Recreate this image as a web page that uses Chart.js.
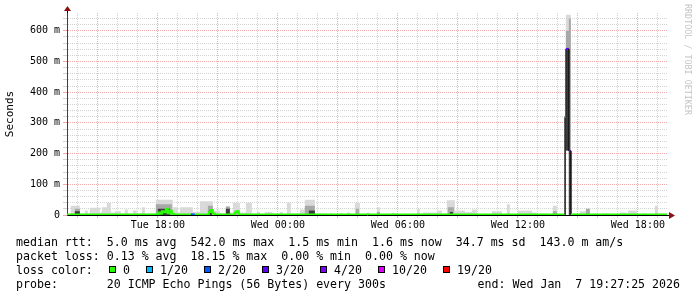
<!doctype html>
<html>
<head>
<meta charset="utf-8">
<title>SmokePing latency</title>
<script src="https://cdn.jsdelivr.net/npm/chart.js@4/dist/chart.umd.min.js"></script>
<style>
	body { margin: 0; background: #fff; }
	#wrap { position: relative; width: 697px; height: 297px; }
	#canvas { position: absolute; left: 0; top: 0; }
	.txt { position: absolute; font: 11.6px 'DejaVu Sans Mono', monospace; color: #000; white-space: pre; line-height: 14px; }
	.sq { position: absolute; width: 5px; height: 5px; border: 1px solid #000; }
	#mark { position: absolute; left: 683px; top: 4px; writing-mode: vertical-rl; font: 8.4px 'DejaVu Sans Mono', monospace; line-height: 9px; color: #c4c4c4; white-space: pre; }
</style>
</head>
<body>
<div id="wrap">
	<canvas id="canvas" width="697" height="297"></canvas>
	<div id="mark">RRDTOOL / TOBI OETIKER</div>
	<div class="txt" style="left:16px; top:235px">median rtt:  5.0 ms avg  542.0 ms max  1.5 ms min  1.6 ms now  34.7 ms sd  143.0 m am/s
packet loss: 0.13 % avg  18.15 % max  0.00 % min  0.00 % now
loss color:
probe:       20 ICMP Echo Pings (56 Bytes) every 300s</div>
	<div class="txt" style="right:17px; top:277px">end: Wed Jan  7 19:27:25 2026</div>
	<div id="losskey"></div>
</div>
<script>

	// time window (hours since Tue 00:00)
	var startTime = 'Tue 13:27:25';
	var endTime = 'Wed 19:27:25';

	// loss legend
	var lossLabels = ['0', '1/20', '2/20', '3/20', '4/20', '10/20', '19/20'];
	var lossSteps = [0, 1, 2, 3, 4, 10, 19];
	var lossColors = ['#26ff00', '#00b8ff', '#0059ff', '#5e00ff', '#7e00ff', '#dd00ff', '#ff0000'];

	// smoke bands: [time, low ms, high ms], each held until the next row
	var lightSmoke = [
		['Tue 13:27', 0, 2], ['Tue 13:39', 0, 30], ['Tue 14:06', 0, 5], ['Tue 14:21', 0, 15],
		['Tue 14:30', 0, 5], ['Tue 14:36', 0, 24], ['Tue 15:06', 0, 8], ['Tue 15:12', 0, 25],
		['Tue 15:27', 0, 40], ['Tue 15:39', 0, 8], ['Tue 15:51', 0, 12], ['Tue 16:09', 0, 5],
		['Tue 16:21', 0, 18], ['Tue 16:30', 0, 5], ['Tue 16:45', 0, 15], ['Tue 16:57', 0, 5],
		['Tue 17:12', 0, 25], ['Tue 17:21', 0, 5], ['Tue 17:54', 0, 50], ['Tue 18:45', 0, 25],
		['Tue 19:00', 0, 8], ['Tue 19:06', 0, 25], ['Tue 19:45', 0, 10], ['Tue 20:06', 0, 45],
		['Tue 20:45', 0, 15], ['Tue 21:06', 0, 5], ['Tue 21:24', 0, 28], ['Tue 21:36', 0, 8],
		['Tue 21:45', 0, 40], ['Tue 22:06', 0, 8], ['Tue 22:24', 0, 40], ['Tue 22:42', 0, 5],
		['Tue 22:57', 0, 10], ['Tue 23:06', 0, 3], ['Tue 23:21', 0, 10], ['Tue 23:42', 0, 5],
		['Wed 00:06', 0, 10], ['Wed 00:15', 0, 4], ['Wed 00:27', 0, 40], ['Wed 00:39', 0, 5],
		['Wed 01:06', 0, 18], ['Wed 01:21', 0, 50], ['Wed 01:51', 0, 5], ['Wed 02:27', 0, 2],
		['Wed 02:36', 0, 6], ['Wed 02:45', 0, 2], ['Wed 03:06', 0, 6], ['Wed 03:15', 0, 2],
		['Wed 03:27', 0, 8], ['Wed 03:36', 0, 3], ['Wed 03:51', 0, 40], ['Wed 04:06', 0, 4],
		['Wed 04:27', 0, 8], ['Wed 04:36', 0, 3], ['Wed 04:57', 0, 25], ['Wed 05:06', 0, 3],
		['Wed 05:42', 0, 6], ['Wed 05:57', 0, 3], ['Wed 06:57', 0, 20], ['Wed 07:06', 0, 4],
		['Wed 07:15', 0, 8], ['Wed 07:57', 0, 15], ['Wed 08:12', 0, 5], ['Wed 08:27', 0, 48],
		['Wed 08:51', 0, 15], ['Wed 09:21', 0, 10], ['Wed 09:42', 0, 18], ['Wed 09:57', 0, 3],
		['Wed 10:42', 0, 12], ['Wed 11:12', 0, 3], ['Wed 11:27', 0, 35], ['Wed 11:36', 0, 3],
		['Wed 12:00', 0, 15], ['Wed 12:42', 0, 8], ['Wed 12:57', 0, 3], ['Wed 13:06', 0, 5],
		['Wed 13:27', 0, 3], ['Wed 13:45', 0, 30], ['Wed 13:57', 0, 3], ['Wed 14:21', 0, 0],
		['Wed 14:24', 210, 652], ['Wed 14:33', 0, 652], ['Wed 14:39', 0, 3], ['Wed 14:45', 0, 5],
		['Wed 14:57', 0, 3], ['Wed 15:06', 0, 12], ['Wed 15:36', 0, 3], ['Wed 15:45', 0, 5],
		['Wed 15:57', 0, 2], ['Wed 16:12', 0, 5], ['Wed 16:36', 0, 2], ['Wed 17:06', 0, 8],
		['Wed 17:27', 0, 2], ['Wed 17:30', 0, 15], ['Wed 17:57', 0, 3], ['Wed 18:12', 0, 5],
		['Wed 18:27', 0, 2], ['Wed 18:51', 0, 30], ['Wed 19:00', 0, 5], ['Wed 19:27', 0, 5]
	];

	var midSmoke = [
		['Tue 13:27', 0, 0], ['Tue 13:51', 0, 20], ['Tue 14:06', 0, 0], ['Tue 17:54', 0, 35],
		['Tue 18:42', 0, 0], ['Tue 20:30', 0, 30], ['Tue 20:45', 0, 0], ['Tue 21:24', 0, 28],
		['Tue 21:36', 0, 0], ['Tue 21:51', 0, 15], ['Tue 22:00', 0, 0], ['Wed 01:21', 0, 30],
		['Wed 01:51', 0, 0], ['Wed 03:54', 0, 20], ['Wed 04:03', 0, 0], ['Wed 04:57', 0, 10],
		['Wed 05:06', 0, 0], ['Wed 08:30', 0, 25], ['Wed 08:48', 0, 0], ['Wed 13:45', 0, 12],
		['Wed 13:57', 0, 0], ['Wed 14:24', 210, 600], ['Wed 14:33', 0, 640], ['Wed 14:39', 0, 0],
		['Wed 15:24', 0, 20], ['Wed 15:36', 0, 0], ['Wed 19:27', 0, 0]
	];

	var darkSmoke = [
		['Tue 13:27', 0, 0], ['Tue 13:51', 0, 12], ['Tue 14:06', 0, 0], ['Tue 18:00', 0, 20],
		['Tue 18:36', 0, 0], ['Tue 20:33', 0, 15], ['Tue 20:42', 0, 0], ['Tue 21:24', 0, 20],
		['Tue 21:36', 0, 0], ['Wed 01:33', 0, 15], ['Wed 01:51', 0, 0], ['Wed 08:36', 0, 10],
		['Wed 08:45', 0, 0], ['Wed 14:21', 0, 320], ['Wed 14:24', 210, 541], ['Wed 14:33', 0, 209],
		['Wed 14:39', 0, 0], ['Wed 19:27', 0, 0]
	];

	// median rtt: [time, ms, lost pings of 20]
	var medianRtt = [
		['Tue 13:27', 2, 0], ['Tue 18:00', 8, 0], ['Tue 18:06', 4, 0], ['Tue 18:12', 12, 0],
		['Tue 18:18', 9, 0], ['Tue 18:24', 20, 0], ['Tue 18:30', 6, 0], ['Tue 18:36', 14, 0],
		['Tue 18:42', 4, 0], ['Tue 18:48', 2, 0], ['Tue 19:39', 2, 2], ['Tue 19:51', 2, 0],
		['Tue 20:33', 10, 0], ['Tue 20:39', 16, 0], ['Tue 20:45', 5, 0], ['Tue 20:51', 2, 0],
		['Tue 21:51', 8, 0], ['Tue 21:57', 12, 0], ['Tue 22:03', 2, 0], ['Wed 14:21', 320, 1],
		['Wed 14:24', 541, 3], ['Wed 14:33', 209, 4], ['Wed 14:39', 2, 0], ['Wed 19:27', 2, 0]
	];

	function toHours(s) {
		var parts = s.split(' ');
		var hms = parts[1].split(':');
		var h = (parts[0] === 'Wed' ? 24 : 0) + Number(hms[0]) + Number(hms[1]) / 60;
		if (hms[2]) h += Number(hms[2]) / 3600;
		return h;
	}

	function lossColor(lost) {
		var c = lossColors[0];
		for (var i = 0; i < lossSteps.length; i++) {
			if (lost >= lossSteps[i]) c = lossColors[i];
		}
		return c;
	}

	function smokePair(rows, color, order) {
		var low = rows.map(function (r) { return { x: toHours(r[0]), y: r[1] }; });
		var high = rows.map(function (r) { return { x: toHours(r[0]), y: r[2] }; });
		return [{
			data: low, stepped: true, borderWidth: 0, pointRadius: 0, fill: false, order: order
		}, {
			data: high, stepped: true, borderWidth: 0, pointRadius: 0,
			fill: '-1', backgroundColor: color, order: order
		}];
	}

	// each median value is held until the next row (rrdtool step)
	var medianPts = [];
	for (var i = 0; i < medianRtt.length - 1; i++) {
		medianPts.push({ x: toHours(medianRtt[i][0]), y: medianRtt[i][1] });
		medianPts.push({ x: toHours(medianRtt[i + 1][0]), y: medianRtt[i][1] });
	}

	function medianSegColor(c) {
		var row = Math.floor(c.p0DataIndex / 2);
		if (c.p0DataIndex % 2 === 0) return lossColor(medianRtt[row][2]);
		var a = lossColor(medianRtt[row][2]), b = lossColor(medianRtt[row + 1][2]);
		return a === b ? a : '#1a1a1a';
	}

	function medianSegWidth(c) {
		return medianSegColor(c) === '#1a1a1a' ? 1 : 2;
	}

	// loss colour key under the graph
	var keyX = [109, 146, 204, 262, 320, 378, 443];
	var key = document.getElementById('losskey');
	lossLabels.forEach(function (lab, i) {
		var sq = document.createElement('span');
		sq.className = 'sq';
		sq.style.left = keyX[i] + 'px';
		sq.style.top = '266px';
		sq.style.background = lossColors[i];
		key.appendChild(sq);
		var t = document.createElement('span');
		t.className = 'txt';
		t.style.left = (keyX[i] + 14) + 'px';
		t.style.top = '263px';
		t.textContent = lab;
		key.appendChild(t);
	});

	var arrows = {
		id: 'arrows',
		afterDraw: function (chart) {
			var ctx = chart.ctx, a = chart.chartArea;
			ctx.save();
			ctx.strokeStyle = '#000';
			ctx.lineWidth = 1;
			ctx.beginPath();
			ctx.moveTo(a.left + 0.5, a.top);
			ctx.lineTo(a.left + 0.5, a.top - 4);
			ctx.moveTo(a.right, a.bottom + 0.5);
			ctx.lineTo(a.right + 3, a.bottom + 0.5);
			ctx.stroke();
			ctx.fillStyle = '#8b1010';
			ctx.beginPath();
			ctx.moveTo(a.left - 3, a.top - 2);
			ctx.lineTo(a.left + 4, a.top - 2);
			ctx.lineTo(a.left + 0.5, a.top - 7);
			ctx.closePath();
			ctx.fill();
			ctx.beginPath();
			ctx.moveTo(a.right + 2, a.bottom - 3);
			ctx.lineTo(a.right + 2, a.bottom + 4);
			ctx.lineTo(a.right + 8, a.bottom + 0.5);
			ctx.closePath();
			ctx.fill();
			ctx.restore();
		}
	};

	var datasets = []
		.concat(smokePair(lightSmoke, '#d9d9d9', 3))
		.concat(smokePair(midSmoke, '#a8a8a8', 2))
		.concat(smokePair(darkSmoke, '#3c3c3c', 1));

	datasets.push({
		data: medianPts,
		borderWidth: 2,
		pointRadius: 0,
		tension: 0,
		fill: false,
		order: 0,
		borderColor: lossColors[0],
		segment: { borderColor: medianSegColor, borderWidth: medianSegWidth }
	});

	var mono = "'DejaVu Sans Mono', monospace";
	var majorGrid = 'rgba(235,150,150,0.8)';
	var minorGrid = 'rgba(200,200,200,0.8)';

	new Chart(document.getElementById('canvas').getContext('2d'), {
		type: 'line',
		data: { datasets: datasets },
		options: {
			responsive: false,
			animation: false,
			events: [],
			layout: { padding: { top: 13, right: 30, bottom: 0, left: 0 } },
			plugins: { legend: { display: false }, tooltip: { enabled: false } },
			scales: {
				x: {
					type: 'linear',
					min: toHours(startTime),
					max: toHours(endTime),
					afterBuildTicks: function (s) {
						var t = [];
						for (var h = 14; h <= 43; h++) t.push({ value: h });
						s.ticks = t;
					},
					afterFit: function (s) { s.height = 82; },
					ticks: {
						autoSkip: false,
						maxRotation: 0,
						padding: 1,
						color: '#000',
						font: { family: mono, size: 10 },
						callback: function (v) {
							if (v % 6 !== 0) return '';
							var day = v < 24 ? 'Tue' : 'Wed';
							var hh = v % 24;
							return day + ' ' + (hh < 10 ? '0' : '') + hh + ':00';
						}
					},
					grid: {
						color: function (c) { return c.tick && c.tick.value % 3 === 0 ? majorGrid : minorGrid; },
						tickLength: 3
					},
					border: { color: '#000', dash: [1, 1] }
				},
				y: {
					min: 0,
					max: 658,
					afterBuildTicks: function (s) {
						var t = [];
						for (var v = 0; v <= 640; v += 20) t.push({ value: v });
						s.ticks = t;
					},
					afterFit: function (s) { s.width = 67; },
					title: { display: true, text: 'Seconds', color: '#000', font: { family: mono, size: 11 } },
					ticks: {
						autoSkip: false,
						padding: 3,
						color: '#000',
						font: { family: mono, size: 10 },
						callback: function (v) {
							if (v % 100 !== 0) return '';
							return v === 0 ? '0' : v + ' m';
						}
					},
					grid: {
						color: function (c) { return c.tick && c.tick.value % 100 === 0 ? majorGrid : minorGrid; },
						tickLength: 4
					},
					border: { color: '#404040', dash: [1, 1] }
				}
			}
		},
		plugins: [arrows]
	});

</script>
</body>
</html>
